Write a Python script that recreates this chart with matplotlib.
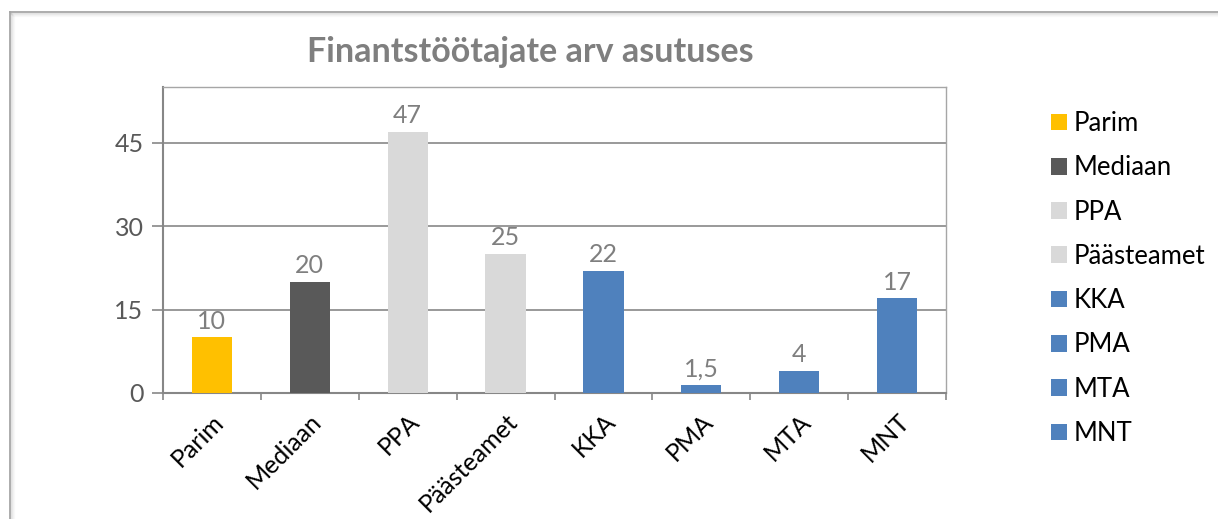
import matplotlib
matplotlib.use("Agg")
import matplotlib.pyplot as plt
from matplotlib.patches import Patch

categories = ["Parim", "Mediaan", "PPA", "Päästeamet", "KKA", "PMA", "MTA", "MNT"]
values = [10, 20, 47, 25, 22, 1.5, 4, 17]
value_labels = ["10", "20", "47", "25", "22", "1,5", "4", "17"]
colors = ["#FFC000", "#595959", "#D9D9D9", "#D9D9D9", "#4F81BD", "#4F81BD", "#4F81BD", "#4F81BD"]
yticks = [0, 15, 30, 45]
title = "Finantstöötajate arv asutuses"

plt.rcParams['font.family'] = ['Lato', 'DejaVu Sans']

W, H = 1218, 519
fig = plt.figure(figsize=(W / 100, H / 100), dpi=100)

# outer chart border with soft shadow
for i, a in enumerate([0.10, 0.06, 0.035, 0.02]):
    fig.add_artist(plt.Line2D([(10 + i) / W, 1], [1 - (13 + i) / H] * 2, color="black", alpha=a, lw=1,
                              transform=fig.transFigure))
    fig.add_artist(plt.Line2D([(11 + i) / W] * 2, [0, 1 - (13 + i) / H], color="black", alpha=a, lw=1,
                              transform=fig.transFigure))
fig.add_artist(plt.Line2D([10 / W, 1], [1 - 11.5 / H] * 2, color="#A6A6A6", lw=1.3, transform=fig.transFigure))
fig.add_artist(plt.Line2D([10 / W] * 2, [0, 1 - 11.5 / H], color="#A6A6A6", lw=1.3, transform=fig.transFigure))

left, right, top, bottom = 163, 946, 87, 393
ax = fig.add_axes([left / W, 1 - bottom / H, (right - left) / W, (bottom - top) / H])

x = list(range(len(categories)))
ax.bar(x, values, width=0.41, color=colors, zorder=3)
ax.set_xlim(-0.5, len(categories) - 0.5)
ax.set_ylim(0, 55)

for xi, v, lab in zip(x, values, value_labels):
    ax.text(xi, v + 0.8, lab, ha="center", va="bottom", fontsize=18, color="#7F7F7F", zorder=4)

ax.set_yticks(yticks)
ax.set_yticklabels([str(t) for t in yticks], fontsize=18, color="#595959")
ax.yaxis.grid(True, color="#878787", lw=1.2, zorder=0)
ax.tick_params(axis="y", length=8, width=1.2, color="#878787", pad=6)

ax.set_xticks([i - 0.5 for i in range(len(categories) + 1)], minor=False)
ax.set_xticklabels([""] * (len(categories) + 1))
ax.tick_params(axis="x", length=5, width=1.2, color="#878787")
ax.set_xticks(x, minor=True)
ax.set_xticklabels(categories, minor=True, rotation=45, ha="right", rotation_mode="anchor",
                   fontsize=18, color="black")
ax.tick_params(axis="x", which="minor", length=0, pad=12)

for s in ["left", "bottom"]:
    ax.spines[s].set_color("#878787")
    ax.spines[s].set_linewidth(1.5)
for s in ["top", "right"]:
    ax.spines[s].set_color("#A6A6A6")
    ax.spines[s].set_linewidth(1.0)

fig.text(530 / W, 1 - 52 / H, title, ha="center", va="center", fontsize=24.5, fontweight="bold", color="#7F7F7F")

handles = [Patch(facecolor=c, edgecolor="none") for c in colors]
fig.legend(handles, categories, loc="upper left", bbox_to_anchor=(1051 / W, 1 - 111 / H),
           frameon=False, fontsize=18.5, handlelength=0.62, handleheight=0.62, handletextpad=0.25,
           labelspacing=0.75, borderaxespad=0, borderpad=0)

fig.savefig("out.png", dpi=100)
